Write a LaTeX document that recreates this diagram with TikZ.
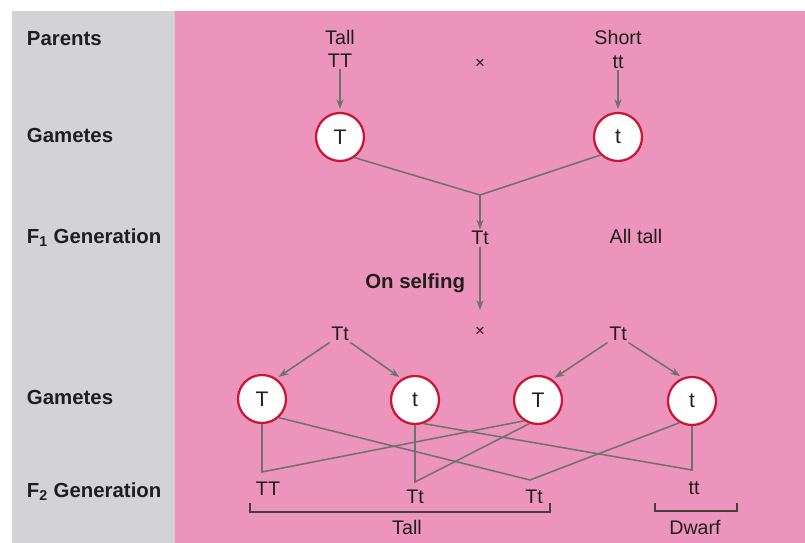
\documentclass[tikz,border=0pt]{standalone}
\usepackage{fontspec}
\setmainfont{Liberation Sans}
\usetikzlibrary{arrows.meta}
\usepackage{xcolor}
\definecolor{panelgrey}{RGB}{211,211,214}
\definecolor{panelpink}{RGB}{237,148,188}
\definecolor{gamred}{RGB}{200,22,52}
\definecolor{linegrey}{RGB}{112,112,112}
\definecolor{inkdark}{RGB}{30,30,30}

\begin{document}
\begin{tikzpicture}[x=0.025cm, y=-0.025cm,
  rowlabel/.style={anchor=west, text=inkdark, font=\fontsize{14.5}{16}\selectfont\bfseries},
  geno/.style={text=inkdark, inner sep=1pt, font=\fontsize{14}{16}\selectfont},
  gamete/.style={circle, draw=gamred, line width=1.6pt, fill=white, minimum size=1.2cm, inner sep=0pt, text=inkdark, font=\fontsize{15}{16}\selectfont},
  crosssign/.style={text=inkdark, inner sep=1pt, font=\fontsize{12}{13}\selectfont},
  link/.style={draw=linegrey, line width=1.1pt},
  bracket/.style={draw=inkdark!85, line width=1.1pt},
  >={Stealth[length=7pt,width=5pt]}
]

% --- Fondo: columna gris y panel rosa ---
\useasboundingbox (0,0) rectangle (805,543);
\fill[panelgrey] (12,11) rectangle (175,543);
\fill[panelpink] (175,11) rectangle (805,543);

% --- Etiquetas de las filas ---
\node[rowlabel] (lparents) at (22,39) {Parents};
\node[rowlabel] (lgam1) at (22,135) {Gametes};
\node[rowlabel] (lf1) at (22,238) {F\textsubscript{1} Generation};
\node[rowlabel] (lgam2) at (22,397) {Gametes};
\node[rowlabel] (lf2) at (22,492) {F\textsubscript{2} Generation};

% --- Padres ---
\node[geno] (tall) at (340,37) {Tall};
\node[geno] (tallTT) at (340,61) {TT};
\node[geno] (short) at (618,37) {Short};
\node[geno] (shorttt) at (618,62) {tt};
\node[crosssign] (cross1) at (480,64) {×};
\node[gamete] (gT) at (340,137) {T};
\node[gamete] (gt) at (618,137) {t};
\coordinate (jF1) at (480,195);

% --- F1 ---
\node[geno] (f1) at (480,238) {Tt};
\node[geno] (alltall) at (636,236) {All tall};
\node[text=inkdark, anchor=east, font=\fontsize{14.5}{16}\selectfont\bfseries] (selfing) at (470,283) {On selfing};
\node[crosssign] (cross2) at (480,332) {×};

% --- Gametos de F1 ---
\node[geno] (ltt) at (340,334) {Tt};
\node[geno] (rtt) at (618,334) {Tt};
\node[gamete] (gA) at (262,399) {T};
\node[gamete] (gB) at (415,400) {t};
\node[gamete] (gC) at (538,400) {T};
\node[gamete] (gD) at (692,401) {t};

% --- F2 ---
\coordinate (jTT) at (262,472);
\coordinate (jTtA) at (415,482);
\coordinate (jTtB) at (530,480);
\coordinate (jtt) at (692,470);
\node[geno] (oTT) at (268,489) {TT};
\node[geno] (oTtA) at (415,497) {Tt};
\node[geno] (oTtB) at (534,497) {Tt};
\node[geno] (ott) at (694,488) {tt};
\node[geno] (ltall) at (407,527) {Tall};
\node[geno] (ldwarf) at (695,527) {Dwarf};

% --- Flujo ---
\draw[link,->,shorten >=2pt] (tallTT) -- (gT);
\draw[link,->,shorten >=2pt] (shorttt) -- (gt);
\draw[link] (gT.305) -- (jF1) -- (gt.226);
\draw[link,->] (jF1) -- (f1);
\draw[link,->,shorten >=11pt] (f1) -- (cross2);
\draw[link,->,shorten >=2pt] (ltt.south west) -- (gA.55);
\draw[link,->,shorten >=2pt] (ltt.south east) -- (gB.122);
\draw[link,->,shorten >=2pt] (rtt.south west) -- (gC.55);
\draw[link,->,shorten >=2pt] (rtt.south east) -- (gD.112);

% --- Cruces de gametos ---
\draw[link] (gA.south) -- (jTT) -- (gC.236);
\draw[link] (gB.south) -- (jTtA) -- (gC.250);
\draw[link] (gA.312) -- (jTtB) -- (gD.240);
\draw[link] (gB.290) -- (jtt) -- (gD.south);

% --- Llaves de fenotipo ---
\draw[bracket] (250,503) -- (250,512) -- (550,512) -- (550,503);
\draw[bracket] (655,503) -- (655,511) -- (737,511) -- (737,503);

\end{tikzpicture}
\end{document}
